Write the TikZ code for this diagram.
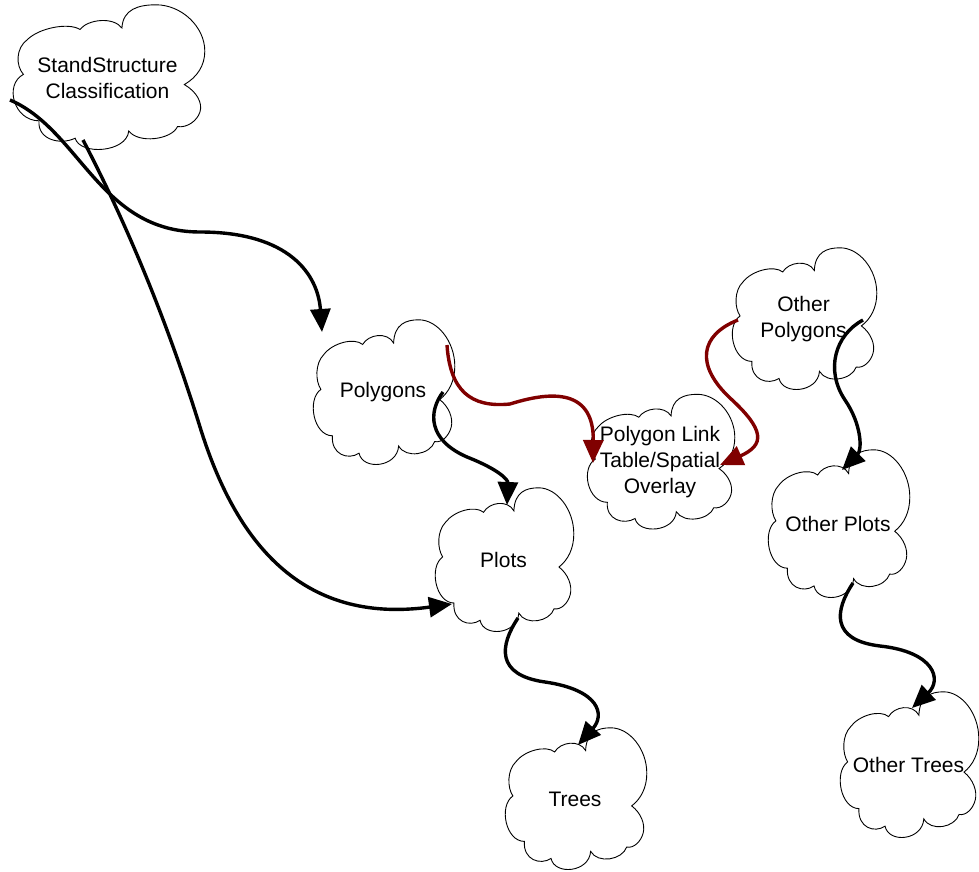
\documentclass[tikz,border=0pt]{standalone}
\usepackage{fontspec}
\setmainfont{Liberation Sans}
\usetikzlibrary{arrows.meta}
\definecolor{linkred}{RGB}{128,0,0}
\tikzset{
  cloudnode/.style={draw=none, inner sep=0pt, align=center, font=\fontsize{21}{26}\selectfont},
  cloudline/.style={draw=black, line width=0.9pt},
  conn/.style={draw=black, line width=3.4pt, -{Triangle[length=23pt,width=20pt]}},
  redconn/.style={conn, draw=linkred, color=linkred}
}
\newcommand\cloudshape[3]{%
  \begin{scope}[shift={(#1.north west)}, x=#2pt, y=-#3pt]
    \draw[cloudline] (0.575,0.16)
      .. controls (0.58,0.03) and (0.66,0.0) .. (0.75,0.0)
      .. controls (0.88,0.0) and (1.0,0.15) .. (1.0,0.32)
      .. controls (1.0,0.42) and (0.96,0.50) .. (0.895,0.55)
      .. controls (0.96,0.60) and (0.99,0.68) .. (0.975,0.74)
      .. controls (0.96,0.80) and (0.91,0.85) .. (0.86,0.84)
      .. controls (0.83,0.93) and (0.66,0.96) .. (0.61,0.87)
      .. controls (0.60,1.02) and (0.36,1.04) .. (0.335,0.92)
      .. controls (0.26,0.97) and (0.14,0.93) .. (0.15,0.80)
      .. controls (0.02,0.80) and (-0.03,0.55) .. (0.07,0.48)
      .. controls (0.03,0.42) and (0.03,0.30) .. (0.09,0.24)
      .. controls (0.15,0.16) and (0.30,0.12) .. (0.36,0.17)
      .. controls (0.40,0.10) and (0.53,0.08) .. (0.575,0.16) -- cycle;
  \end{scope}}
\begin{document}
\begin{tikzpicture}[x=1pt,y=-1pt]
\useasboundingbox (0,0) rectangle (979,872);
% clouds
\node[cloudnode, minimum width=195pt, minimum height=145pt] (ssc) at (107.5,77.5) {StandStructure\\Classification};
\cloudshape{ssc}{195}{145}
\node[cloudnode, minimum width=144pt, minimum height=145pt] (poly) at (383,392.5) {Polygons};
\cloudshape{poly}{144}{145}
\node[cloudnode, minimum width=150pt, minimum height=135pt] (link) at (660,462) {Polygon Link\\Table/Spatial\\Overlay};
\cloudshape{link}{150}{135}
\node[cloudnode, minimum width=141pt, minimum height=144pt] (plots) at (503.5,560) {Plots};
\cloudshape{plots}{141}{144}
\node[cloudnode, minimum width=144pt, minimum height=142pt] (trees) at (575,799) {Trees};
\cloudshape{trees}{144}{142}
\node[cloudnode, minimum width=147pt, minimum height=142pt] (opoly) at (803.5,319) {Other\\Polygons};
\cloudshape{opoly}{147}{142}
\node[cloudnode, minimum width=144pt, minimum height=148pt] (oplots) at (838,524) {Other Plots};
\cloudshape{oplots}{144}{148}
\node[cloudnode, minimum width=141pt, minimum height=146pt] (otrees) at (908.5,765) {Other Trees};
\cloudshape{otrees}{141}{146}
% connectors
\draw[conn] ([shift={(-97.5,22.5)}]ssc.center)
  .. controls (80,130) and (100,232) .. (200,232)
  .. controls (290,232) and (318,275) .. ([shift={(-61,-60.5)}]poly.center);
\draw[conn] ([shift={(-24.5,62.5)}]ssc.center)
  .. controls (130,230) and (170,330) .. (200,427)
  .. controls (235,540) and (300,625) .. ([shift={(-51.5,44)}]plots.center);
\draw[conn] ([shift={(60,-0.5)}]poly.center)
  .. controls (428,412) and (428,440) .. (467,457)
  .. controls (500,470) and (508,480) .. ([shift={(3.5,-55)}]plots.center);
\draw[redconn] ([shift={(64,-47.5)}]poly.center)
  .. controls (450,390) and (470,408) .. (510,404)
  .. controls (545,393) and (594,385) .. ([shift={(-67,1)}]link.center);
\draw[redconn] ([shift={(-65.5,1)}]opoly.center)
  .. controls (700,335) and (695,365) .. (730,398)
  .. controls (765,430) and (765,445) .. ([shift={(60,3)}]link.center);
\draw[conn] ([shift={(59.5,1)}]opoly.center)
  .. controls (835,335) and (825,370) .. (845,400)
  .. controls (862,425) and (862,450) .. ([shift={(4,-54)}]oplots.center);
\draw[conn] ([shift={(14.5,58)}]plots.center)
  .. controls (500,645) and (495,675) .. (545,682)
  .. controls (600,690) and (605,715) .. ([shift={(3,-54)}]trees.center);
\draw[conn] ([shift={(15,59)}]oplots.center)
  .. controls (835,610) and (830,640) .. (880,646)
  .. controls (935,652) and (942,680) .. ([shift={(3.5,-57)}]otrees.center);
\end{tikzpicture}
\end{document}
